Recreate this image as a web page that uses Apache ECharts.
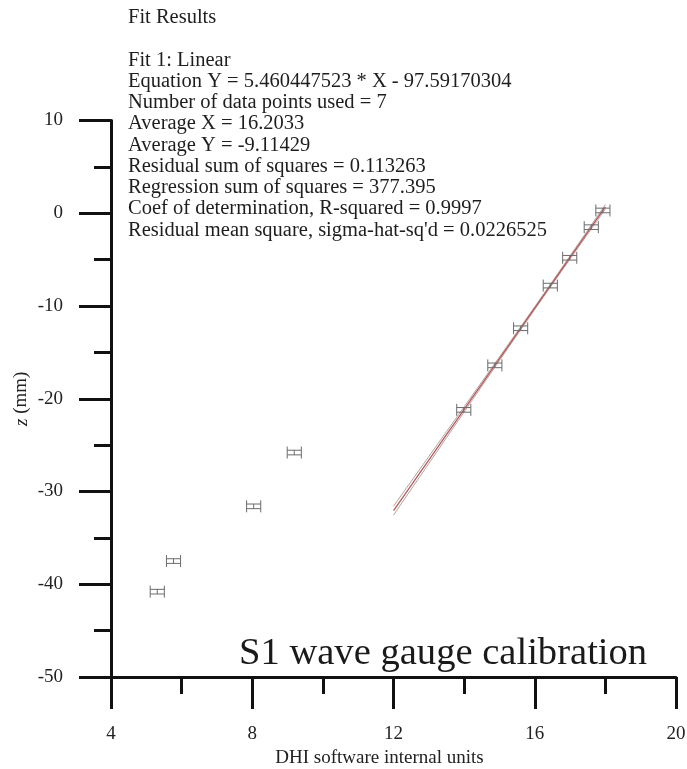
<!DOCTYPE html>
<html>
<head>
<meta charset="utf-8">
<title>S1 wave gauge calibration</title>
<script src="https://cdn.jsdelivr.net/npm/echarts@6/dist/echarts.min.js"></script>
<style>
  html, body { margin: 0; padding: 0; background: #ffffff; }
  #chart { width: 687px; height: 769px; }
</style>
</head>
<body>
<div id="chart"></div>
<script>
// Calibration points used in the linear fit (DHI units vs. z in mm)
const fitX = [17.93, 17.60, 16.99, 16.44, 15.60, 14.87, 13.99];
const fitZ = [0.3, -1.5, -4.8, -7.8, -12.4, -16.4, -21.2];

// Remaining calibration points (not used in the fit)
const otherX = [9.19, 8.04, 5.77, 5.31];
const otherZ = [-25.8, -31.6, -37.5, -40.8];

// Measurement uncertainty drawn as error bars
const X_ERR = 0.2;
const Z_ERR = 0.25;

// Linear fit results
const SLOPE = 5.460447523;
const INTERCEPT = -97.59170304;
const N_USED = 7;
const MEAN_X = 16.2033;
const REG_SS = 377.395;
const RESID_MS = 0.0226525;
const T_95 = 2.571;          // Student t, 5 degrees of freedom
const FIT_RANGE = [12, 18];

// Axis ticks
const xTicks = { min: 4, max: 20, interval: 4 };
const yTicks = { min: -50, max: 10, interval: 10 };

const fitLines = [
  'Fit Results',
  '',
  'Fit 1: Linear',
  'Equation Y = 5.460447523 * X - 97.59170304',
  'Number of data points used = 7',
  'Average X = 16.2033',
  'Average Y = -9.11429',
  'Residual sum of squares = 0.113263',
  'Regression sum of squares = 377.395',
  'Coef of determination, R-squared = 0.9997',
  "Residual mean square, sigma-hat-sq'd = 0.0226525"
];

// Fitted line and its 95% confidence band
const sxx = REG_SS / (SLOPE * SLOPE);
const s = Math.sqrt(RESID_MS);
const fitLine = [], bandHi = [], bandLo = [];
for (let k = 0; k <= 24; k++) {
  const x = FIT_RANGE[0] + (FIT_RANGE[1] - FIT_RANGE[0]) * k / 24;
  const y = SLOPE * x + INTERCEPT;
  const h = T_95 * s * Math.sqrt(1 / N_USED + (x - MEAN_X) * (x - MEAN_X) / sxx);
  fitLine.push([x, y]);
  bandHi.push([x, y + h]);
  bandLo.push([x, y - h]);
}

const serif = '"Liberation Serif", "Times New Roman", serif';

function errorBar(params, api) {
  const x = api.value(0), y = api.value(1);
  const c = api.coord([x, y]);
  const l = api.coord([x - X_ERR, y]);
  const r = api.coord([x + X_ERR, y]);
  const t = api.coord([x, y + Z_ERR]);
  const b = api.coord([x, y - Z_ERR]);
  const cap = 6;
  const style = { stroke: '#6b6b6b', lineWidth: 1, fill: null };
  const seg = (x1, y1, x2, y2) => ({ type: 'line', shape: { x1, y1, x2, y2 }, style });
  return {
    type: 'group',
    children: [
      seg(l[0], c[1] - cap, l[0], c[1] + cap),
      seg(r[0], c[1] - cap, r[0], c[1] + cap),
      seg(l[0], t[1], r[0], t[1]),
      seg(l[0], b[1], r[0], b[1]),
      seg(c[0], t[1], c[0], b[1])
    ]
  };
}

const axisCommon = {
  axisLine: { show: true, onZero: false, lineStyle: { color: '#111', width: 3 } },
  axisTick: { show: true, inside: false, length: 32, lineStyle: { color: '#111', width: 3 } },
  minorTick: { show: true, splitNumber: 2, length: 17, lineStyle: { color: '#111', width: 3 } },
  splitLine: { show: false },
  minorSplitLine: { show: false },
  axisLabel: { margin: 48, color: '#222', fontFamily: serif, fontSize: 19 }
};

const chart = echarts.init(document.getElementById('chart'), null, { renderer: 'canvas' });
chart.setOption({
  backgroundColor: '#ffffff',
  animation: false,
  grid: {
    left: 111, right: 11, top: 120.5, bottom: 92,
    containLabel: false, outerBoundsMode: 'none'
  },
  xAxis: Object.assign({
    type: 'value',
    min: xTicks.min, max: xTicks.max, interval: xTicks.interval,
    name: 'DHI software internal units',
    nameLocation: 'middle',
    nameGap: 72,
    nameMoveOverlap: false,
    nameTextStyle: { color: '#222', fontFamily: serif, fontSize: 19, padding: [0, 28, 0, 0] }
  }, axisCommon),
  yAxis: Object.assign({
    type: 'value',
    min: yTicks.min, max: yTicks.max, interval: yTicks.interval,
    name: '{i|z} (mm)',
    nameLocation: 'middle',
    nameGap: 80,
    nameRotate: 90,
    nameMoveOverlap: false,
    nameTextStyle: {
      color: '#222', fontFamily: serif, fontSize: 19,
      rich: { i: { fontStyle: 'italic', fontFamily: serif, fontSize: 19, color: '#222' } }
    }
  }, axisCommon),
  graphic: [
    {
      type: 'text', left: 128, top: 7, silent: true,
      style: {
        text: fitLines.join('\n'),
        font: '20.5px ' + serif,
        lineHeight: 21.25,
        fill: '#1e1e1e'
      }
    },
    {
      type: 'text', left: 239, top: 634, silent: true,
      style: { text: 'S1 wave gauge calibration', font: '38.6px ' + serif, fill: '#1a1a1a' }
    }
  ],
  series: [
    {
      name: 'band upper', type: 'line', data: bandHi, symbol: 'none', silent: true,
      lineStyle: { color: '#a08a8a', width: 0.8 }, z: 2
    },
    {
      name: 'band lower', type: 'line', data: bandLo, symbol: 'none', silent: true,
      lineStyle: { color: '#a08a8a', width: 0.8 }, z: 2
    },
    {
      name: 'fit', type: 'line', data: fitLine, symbol: 'none', silent: true,
      lineStyle: { color: '#b65a5a', width: 1.3 }, z: 3
    },
    {
      name: 'fit points', type: 'custom', renderItem: errorBar, clip: false, z: 4,
      data: fitX.map((x, i) => [x, fitZ[i]])
    },
    {
      name: 'other points', type: 'custom', renderItem: errorBar, clip: false, z: 4,
      data: otherX.map((x, i) => [x, otherZ[i]])
    }
  ]
});
</script>
</body>
</html>
